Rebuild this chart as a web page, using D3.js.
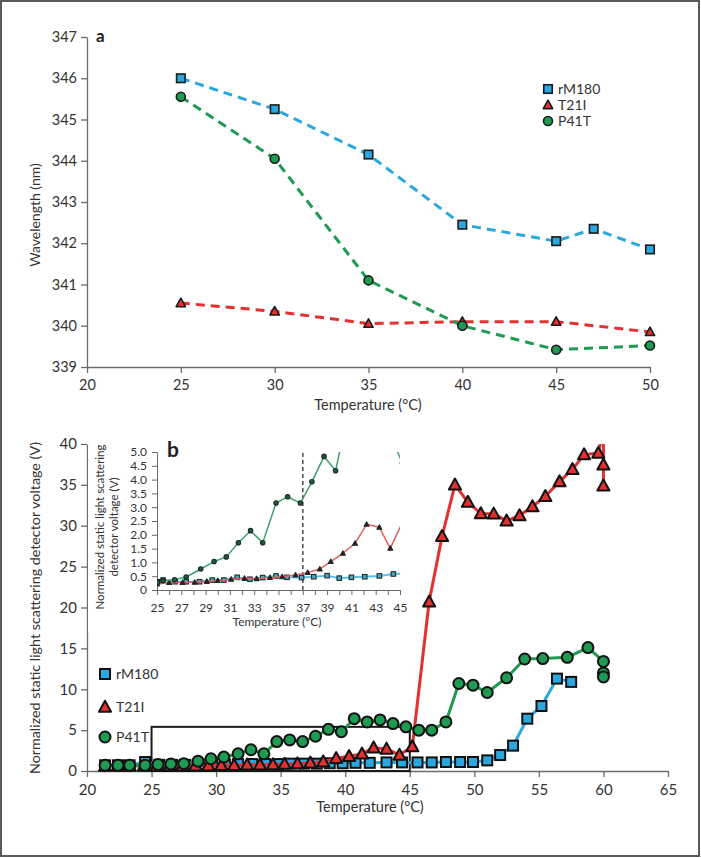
<!DOCTYPE html>
<html><head><meta charset="utf-8">
<script src="https://cdn.jsdelivr.net/npm/d3@7"></script>
<style>
html,body{margin:0;padding:0;background:#fff;}
svg{display:block;font-family:Lato,"Open Sans",sans-serif;}
</style></head>
<body>
<svg id="c" width="701" height="858"></svg>
<script>
// ---------- Panel a data ----------
const aTempRM = [25, 30, 35, 40, 45, 47, 50];
const aWaveRM = [346.0, 345.25, 344.15, 342.45, 342.05, 342.35, 341.85];
const aTemp = [25, 30, 35, 40, 45, 50];
const aWaveT21I = [340.55, 340.35, 340.05, 340.1, 340.1, 339.85];
const aWaveP41T = [345.55, 344.05, 341.1, 340.0, 339.42, 339.52];
const aXTicks = [20, 25, 30, 35, 40, 45, 50];
const aYTicks = [339, 340, 341, 342, 343, 344, 345, 346, 347];

// ---------- Panel b main data ----------
const bTempP41T = [21.4,22.4,23.3,24.5,25.5,26.5,27.5,28.6,29.6,30.6,31.7,32.7,33.7,34.7,35.7,36.7,37.7,38.7,39.7,40.7,41.7,42.7,43.7,44.7,45.7,46.7,47.8,48.8,49.9,51.0,52.5,53.9,55.3,57.2,58.8,60.0,60.0,60.0];
const bValP41T  = [0.7,0.7,0.7,0.7,0.8,0.85,0.9,1.2,1.5,1.7,2.1,2.6,2.1,3.6,3.8,3.6,4.25,5.1,4.8,6.4,6.0,6.25,5.8,5.4,5.0,5.0,6.0,10.7,10.5,9.6,11.4,13.7,13.75,13.9,15.1,13.4,12.0,11.5];
const bTempRM   = [21.4,22.4,23.3,24.5,25.6,26.6,27.6,28.7,29.7,30.7,31.7,32.8,33.8,34.8,35.8,36.8,37.8,38.8,39.8,40.8,41.9,43.2,44.4,45.6,46.7,47.8,48.9,49.9,51.0,52.0,53.0,54.1,55.2,56.4,57.5];
const bValRM    = [0.7,0.7,0.7,1.1,0.75,0.75,0.75,0.8,0.8,0.8,0.85,0.85,0.85,0.85,0.9,0.9,0.9,0.95,0.95,1.0,1.0,1.05,1.05,1.05,1.05,1.1,1.1,1.1,1.3,1.95,3.1,6.4,7.95,11.3,10.9];
const bTempT21I = [21.4,22.4,23.3,24.4,25.4,26.4,27.4,28.4,29.4,30.4,31.4,32.4,33.4,34.4,35.3,36.3,37.3,38.3,39.3,40.3,41.3,42.2,43.2,44.2,45.2,46.5,47.5,48.5,49.5,50.5,51.5,52.5,53.5,54.5,55.5,56.6,57.6,58.5,59.6,60.0,60.0,60.0];
const bValT21I  = [0.6,0.6,0.6,0.6,0.6,0.6,0.6,0.65,0.65,0.7,0.7,0.75,0.75,0.8,0.85,0.9,1.0,1.14,1.55,1.8,2.1,2.85,2.7,1.96,3.0,20.7,28.7,35.0,32.9,31.5,31.45,30.6,31.25,32.35,33.6,35.4,36.9,38.7,38.9,42.0,37.45,34.9];
const bXTicks = [20, 25, 30, 35, 40, 45, 50, 55, 60, 65];
const bYTicks = [0, 5, 10, 15, 20, 25, 30, 35, 40];
const bBox = [25, 45, 0, 5.4]; // zoom box: x0, x1, y0, y1

// ---------- Inset data ----------
const iTempP41T = [25.05,25.5,26.45,27.4,28.6,29.7,30.7,31.7,32.7,33.7,34.8,35.75,36.8,37.75,38.75,39.7,40.7,41.7,42.7,43.2,44.2,45.2];
const iValP41T  = [0.28,0.34,0.37,0.47,0.76,1.03,1.2,1.71,2.15,1.71,3.15,3.38,3.15,3.92,4.84,4.32,6.4,6.0,6.2,5.9,5.6,4.6];
const iTempRM   = [25.05,25.5,26.5,27.4,28.5,29.55,30.5,31.6,32.65,33.7,34.8,35.7,36.9,37.9,39.0,40.0,41.0,42.1,43.3,44.45,45.5];
const iValRM    = [0.3,0.36,0.3,0.3,0.3,0.36,0.36,0.46,0.39,0.45,0.51,0.46,0.45,0.48,0.52,0.43,0.46,0.48,0.51,0.58,0.6];
const iTempT21I = [25.0,26.0,27.1,28.1,29.1,30.0,31.1,32.2,33.2,34.3,35.3,36.4,37.4,38.4,39.3,40.3,41.3,42.25,43.3,44.2,45.3];
const iValT21I  = [0.22,0.27,0.27,0.28,0.31,0.34,0.39,0.42,0.41,0.45,0.48,0.54,0.63,0.76,1.03,1.33,1.69,2.38,2.27,1.51,2.55];
const iXTicks = d3.range(25, 46);
const iYTicks = [0, 0.5, 1.0, 1.5, 2.0, 2.5, 3.0, 3.5, 4.0, 4.5, 5.0];
const iMarker = 37;

const seriesNames = ["rM180", "T21I", "P41T"];
const C = {blue:"#2aa7de", red:"#e2312f", green:"#1f9a52"};
const CI = {blue:"#5cc1e9", red:"#e2615b", green:"#3fa06d"};

const svg = d3.select("#c");
const AX = "#6b6b6b", TX = "#333";

// outer frame
svg.append("rect").attr("x",1).attr("y",1).attr("width",698).attr("height",855)
  .attr("fill","none").attr("stroke","#5a5a5a").attr("stroke-width",2);

function zip(xs, ys){ return xs.map((x,i)=>[x, ys[i]]); }

function styleAxis(g, fs){
  g.select(".domain").attr("stroke",AX).attr("stroke-width",1.3);
  g.selectAll(".tick line").attr("stroke",AX).attr("stroke-width",1.3);
  g.selectAll(".tick text").attr("fill",TX).attr("font-size",fs).attr("font-family","Lato,'Open Sans',sans-serif");
}

function marker(g, type, x, y, s, fill, stroke, sw){
  if(type==="square"){
    g.append("rect").attr("x",x-s/2).attr("y",y-s/2).attr("width",s).attr("height",s)
      .attr("fill",fill).attr("stroke",stroke).attr("stroke-width",sw);
  } else if(type==="circle"){
    g.append("circle").attr("cx",x).attr("cy",y).attr("r",s/2)
      .attr("fill",fill).attr("stroke",stroke).attr("stroke-width",sw);
  } else {
    const h = s*0.95;
    g.append("path").attr("d",`M${x},${y-h*0.6}L${x+s*0.55},${y+h*0.45}L${x-s*0.55},${y+h*0.45}Z`)
      .attr("fill",fill).attr("stroke",stroke).attr("stroke-width",sw).attr("stroke-linejoin","round");
  }
}

// =================== Panel a ===================
{
  const x = d3.scaleLinear().domain([20,50]).range([87,650]);
  const y = d3.scaleLinear().domain([339,347]).range([367,37]);
  const gx = svg.append("g").attr("transform","translate(0,367)")
    .call(d3.axisBottom(x).tickValues(aXTicks).tickSize(6).tickPadding(7).tickSizeOuter(0));
  styleAxis(gx, 14.5);
  const gy = svg.append("g").attr("transform","translate(87,0)")
    .call(d3.axisLeft(y).tickValues(aYTicks).tickSize(6).tickPadding(4).tickSizeOuter(0));
  styleAxis(gy, 14.5);

  const line = d3.line().x(d=>x(d[0])).y(d=>y(d[1]));
  const sets = [
    {d:zip(aTempRM,aWaveRM), c:C.blue, t:"square"},
    {d:zip(aTemp,aWaveT21I), c:C.red, t:"triangle"},
    {d:zip(aTemp,aWaveP41T), c:C.green, t:"circle"}
  ];
  sets.forEach(s=>{
    svg.append("path").attr("d",line(s.d)).attr("fill","none").attr("stroke",s.c)
      .attr("stroke-width",3).attr("stroke-dasharray","9,6");
  });
  sets.forEach(s=>{
    const g = svg.append("g");
    s.d.forEach(p=>marker(g, s.t, x(p[0]), y(p[1]), s.t==="circle"?9:8.5, s.c, "#1a1a1a", 1.6));
  });

  // legend
  const lg = svg.append("g");
  const types = ["square","triangle","circle"], cols=[C.blue,C.red,C.green];
  seriesNames.forEach((n,i)=>{
    const yy = 89 + i*16;
    marker(lg, types[i], 548, yy, types[i]==="circle"?9:8.5, cols[i], "#1a1a1a", 1.6);
    lg.append("text").attr("x",558).attr("y",yy+5).attr("font-size",14).attr("fill",TX).text(n);
  });

  svg.append("text").attr("x",96).attr("y",42).attr("font-size",17).attr("font-weight","bold").attr("fill","#222").text("a");
  svg.append("text").attr("transform","translate(40,215) rotate(-90)").attr("text-anchor","middle")
    .attr("font-size",14).attr("fill",TX).text("Wavelength (nm)");
  svg.append("text").attr("x",368).attr("y",410).attr("text-anchor","middle")
    .attr("font-size",14.5).attr("fill",TX).text("Temperature (°C)");
}

// =================== Panel b main ===================
{
  const x = d3.scaleLinear().domain([20,65]).range([87,668]);
  const y = d3.scaleLinear().domain([0,40]).range([771,444]);
  const gx = svg.append("g").attr("transform","translate(0,771)")
    .call(d3.axisBottom(x).tickValues(bXTicks).tickSize(6).tickPadding(7).tickSizeOuter(0));
  styleAxis(gx, 15);
  const gy = svg.append("g").attr("transform","translate(87,0)")
    .call(d3.axisLeft(y).tickValues(bYTicks).tickSize(6).tickPadding(4).tickSizeOuter(0));
  styleAxis(gy, 15);

  svg.append("defs").append("clipPath").attr("id","clipB").append("rect")
    .attr("x",80).attr("y",444).attr("width",600).attr("height",360);

  // zoom box
  svg.append("rect").attr("x",x(bBox[0])).attr("y",y(bBox[3]))
    .attr("width",x(bBox[1])-x(bBox[0])).attr("height",y(bBox[2])-y(bBox[3]))
    .attr("fill","none").attr("stroke","#1a1a1a").attr("stroke-width",2);

  const line = d3.line().x(d=>x(d[0])).y(d=>y(d[1]));
  const sets = [
    {d:zip(bTempRM,bValRM), c:C.blue, t:"square"},
    {d:zip(bTempT21I,bValT21I), c:C.red, t:"triangle"},
    {d:zip(bTempP41T,bValP41T), c:C.green, t:"circle"}
  ];
  const data = svg.append("g").attr("clip-path","url(#clipB)");
  sets.forEach(s=>{
    data.append("path").attr("d",line(s.d)).attr("fill","none").attr("stroke",s.c)
      .attr("stroke-width",3).attr("stroke-linejoin","round");
    const g = data.append("g");
    s.d.forEach(p=>marker(g, s.t, x(p[0]), y(p[1]), s.t==="circle"?11:(s.t==="square"?10:11), s.c, "#111", 2));
  });

  const lg = svg.append("g");
  const types = ["square","triangle","circle"], cols=[C.blue,C.red,C.green];
  seriesNames.forEach((n,i)=>{
    const yy = [674,707,737][i];
    marker(lg, types[i], 105, yy, types[i]==="circle"?11:(types[i]==="square"?10:11), cols[i], "#111", 2);
    lg.append("text").attr("x",116).attr("y",yy+5).attr("font-size",14).attr("fill",TX).text(n);
  });

  svg.append("text").attr("transform","translate(40,608) rotate(-90)").attr("text-anchor","middle")
    .attr("font-size",14.3).attr("fill",TX).text("Normalized static light scattering detector voltage (V)");
  svg.append("text").attr("x",370).attr("y",812).attr("text-anchor","middle")
    .attr("font-size",14.5).attr("fill",TX).text("Temperature (°C)");
}

// =================== Inset ===================
{
  const x = d3.scaleLinear().domain([25,45]).range([157,400]);
  const y = d3.scaleLinear().domain([0,5]).range([590,452]);

  // white background behind inset area
  svg.append("rect").attr("x",88).attr("y",446).attr("width",322).attr("height",186).attr("fill","#fff");

  const gx = svg.append("g").attr("transform","translate(0,590)")
    .call(d3.axisBottom(x).tickValues(iXTicks).tickFormat(d=>d%2?d:"").tickSize(5).tickPadding(8).tickSizeOuter(0));
  styleAxis(gx, 12);
  const gy = svg.append("g").attr("transform","translate(157,0)")
    .call(d3.axisLeft(y).tickValues(iYTicks).tickFormat(d=>d===0?"0":d3.format(".1f")(d)).tickSize(5).tickPadding(5).tickSizeOuter(0));
  styleAxis(gy, 12);
  gx.selectAll(".domain, .tick line").attr("stroke-width",1);
  gy.selectAll(".domain, .tick line").attr("stroke-width",1);

  svg.append("defs").append("clipPath").attr("id","clipI").append("rect")
    .attr("x",157).attr("y",452).attr("width",243).attr("height",145);

  svg.append("line").attr("x1",x(iMarker)).attr("x2",x(iMarker)).attr("y1",y(0)).attr("y2",y(5))
    .attr("stroke","#555").attr("stroke-width",1.6).attr("stroke-dasharray","4,3");

  const line = d3.line().x(d=>x(d[0])).y(d=>y(d[1]));
  const sets = [
    {d:zip(iTempRM,iValRM), c:CI.blue, f:"#2f7f8f", t:"square", w:2},
    {d:zip(iTempT21I,iValT21I), c:CI.red, f:"#3a1a1a", t:"triangle", w:1.5},
    {d:zip(iTempP41T,iValP41T), c:CI.green, f:"#1f5a3a", t:"circle", w:1.5}
  ];
  const data = svg.append("g").attr("clip-path","url(#clipI)");
  sets.forEach(s=>{
    data.append("path").attr("d",line(s.d)).attr("fill","none").attr("stroke",s.c)
      .attr("stroke-width",s.w).attr("stroke-linejoin","round");
    const g = data.append("g");
    s.d.forEach(p=>marker(g, s.t, x(p[0]), y(p[1]), 4.5, s.t==="square"?"#4fa6bd":s.f, "#1c2b2b", 1.1));
  });

  svg.append("text").attr("x",167).attr("y",457).attr("font-size",21).attr("font-weight","bold").attr("fill","#222").text("b");
  const yl = svg.append("text").attr("transform","translate(104,527) rotate(-90)").attr("text-anchor","middle")
    .attr("font-size",11.5).attr("fill",TX);
  yl.append("tspan").attr("x",0).attr("dy",0).text("Normalized static light scattering");
  yl.append("tspan").attr("x",0).attr("dy",14).text("detector voltage (V)");
  svg.append("text").attr("x",277).attr("y",626).attr("text-anchor","middle")
    .attr("font-size",12).attr("fill",TX).text("Temperature (°C)");
}
</script>
</body></html>
